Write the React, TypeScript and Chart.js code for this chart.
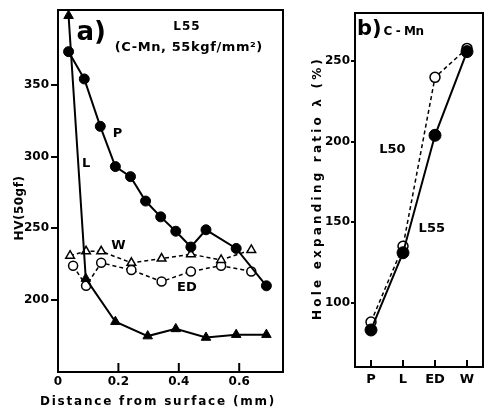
import React, { useEffect, useRef } from 'react';
import { Chart, registerables } from 'chart.js';

Chart.register(...registerables);

// ---------- Panel a) data : HV (50gf) vs distance from surface (mm) ----------
const distP = [0.035, 0.087, 0.14, 0.19, 0.24, 0.29, 0.34, 0.39, 0.44, 0.49, 0.59, 0.69];
const hvP = [373, 354, 321, 293, 286, 269, 258, 248, 237, 249, 236, 210];
const distL = [0.035, 0.092, 0.19, 0.297, 0.39, 0.49, 0.59, 0.69];
const hvL = [398, 215, 185, 175, 180, 174, 176, 176];
const distW = [0.04, 0.093, 0.143, 0.243, 0.343, 0.44, 0.54, 0.64];
const hvW = [231, 234, 234, 226, 229, 232, 228, 235];
const distED = [0.05, 0.093, 0.143, 0.243, 0.343, 0.44, 0.54, 0.64];
const hvED = [224, 210, 226, 221, 213, 220, 224, 220];
const hvTicks = [200, 250, 300, 350];
const distTicks = [0, 0.2, 0.4, 0.6];

// ---------- Panel b) data : hole expanding ratio (%) ----------
const specimens = ['P', 'L', 'ED', 'W'];
const lambdaL55 = [83, 131, 204, 256];
const lambdaL50 = [88, 135, 240, 258];
const lambdaTicks = [100, 150, 200, 250];

const FAMILY = '"DejaVu Sans", "Liberation Sans", sans-serif';

type Note = { text: string; x: number; y: number; size: number; spacing?: number; align?: CanvasTextAlign };
type Title = { text: string; x: number; y: number; size: number; spacing: number; rotate?: boolean };

function pts(xs: number[], ys: number[]) {
  return xs.map((x, i) => ({ x, y: ys[i] }));
}

function makeDecor(notes: Note[], titles: Title[], inwardTick: number, skipFirstTick: boolean) {
  return {
    id: 'decor',
    afterDraw(chart: any) {
      const { ctx, chartArea } = chart;
      const xs = chart.scales.x;
      const ys = chart.scales.y;
      ctx.save();
      // frame
      ctx.strokeStyle = '#000';
      ctx.lineWidth = 2;
      ctx.strokeRect(chartArea.left, chartArea.top, chartArea.right - chartArea.left, chartArea.bottom - chartArea.top);
      // inward x ticks
      ctx.lineWidth = 2;
      xs.ticks.forEach((t: any, i: number) => {
        if (skipFirstTick && i === 0) return;
        const px = xs.getPixelForTick(i);
        ctx.beginPath();
        ctx.moveTo(px, chartArea.bottom);
        ctx.lineTo(px, chartArea.bottom - inwardTick);
        ctx.stroke();
      });
      ctx.fillStyle = '#000';
      // annotations in data coordinates
      notes.forEach((n) => {
        ctx.font = `bold ${n.size}px ${FAMILY}`;
        (ctx as any).letterSpacing = `${n.spacing ?? 0}px`;
        ctx.textAlign = n.align ?? 'center';
        ctx.textBaseline = 'middle';
        ctx.fillText(n.text, xs.getPixelForValue(n.x), ys.getPixelForValue(n.y));
      });
      // axis titles
      titles.forEach((t) => {
        ctx.save();
        ctx.font = `bold ${t.size}px ${FAMILY}`;
        (ctx as any).letterSpacing = `${t.spacing}px`;
        ctx.textAlign = 'center';
        ctx.textBaseline = 'middle';
        ctx.translate(t.x, t.y);
        if (t.rotate) ctx.rotate(-Math.PI / 2);
        ctx.fillText(t.text, 0, 0);
        ctx.restore();
      });
      ctx.restore();
    },
  };
}

export default function App() {
  const refA = useRef<HTMLCanvasElement>(null);
  const refB = useRef<HTMLCanvasElement>(null);

  useEffect(() => {
    const tickFont = { family: FAMILY, size: 12, weight: 'bold' as const };

    const notesA: Note[] = [
      { text: 'a)', x: 0.11, y: 386, size: 26 },
      { text: 'L55', x: 0.427, y: 390, size: 12, spacing: 1 },
      { text: '(C-Mn, 55kgf/mm²)', x: 0.433, y: 376, size: 13, spacing: 0.6 },
      { text: 'P', x: 0.197, y: 316, size: 13 },
      { text: 'L', x: 0.093, y: 295, size: 13 },
      { text: 'W', x: 0.2, y: 238, size: 13 },
      { text: 'ED', x: 0.427, y: 209, size: 13 },
    ];
    const titlesA: Title[] = [
      { text: 'HV(50gf)', x: 20, y: 208, size: 12, spacing: 0.5, rotate: true },
      { text: 'Distance from surface (mm)', x: 158, y: 402, size: 12, spacing: 1.8 },
    ];

    const chartA = new Chart(refA.current!, {
      type: 'line',
      data: {
        datasets: [
          {
            label: 'P',
            data: pts(distP, hvP),
            borderColor: '#000',
            backgroundColor: '#000',
            borderWidth: 2,
            pointStyle: 'circle',
            pointRadius: 5,
            pointBorderWidth: 1,
          },
          {
            label: 'L',
            data: pts(distL, hvL),
            borderColor: '#000',
            backgroundColor: '#000',
            borderWidth: 2,
            pointStyle: 'triangle',
            pointRadius: 5.5,
            pointBorderWidth: 1,
          },
          {
            label: 'W',
            data: pts(distW, hvW),
            borderColor: '#000',
            backgroundColor: '#fff',
            borderWidth: 1.5,
            borderDash: [4, 3],
            pointStyle: 'triangle',
            pointRadius: 5,
            pointBorderWidth: 1.5,
          },
          {
            label: 'ED',
            data: pts(distED, hvED),
            borderColor: '#000',
            backgroundColor: '#fff',
            borderWidth: 1.5,
            borderDash: [4, 3],
            pointStyle: 'circle',
            pointRadius: 4.5,
            pointBorderWidth: 1.5,
          },
        ],
      },
      options: {
        animation: false,
        responsive: false,
        maintainAspectRatio: false,
        layout: { padding: { top: 10, right: 17, left: 0, bottom: 0 } },
        plugins: { legend: { display: false }, tooltip: { enabled: false } },
        elements: { line: { tension: 0 } },
        scales: {
          x: {
            type: 'linear',
            min: 0,
            max: 0.745,
            afterBuildTicks: (s: any) => {
              s.ticks = distTicks.map((v) => ({ value: v }));
            },
            afterFit: (s: any) => {
              s.height = 38;
            },
            grid: { display: false, drawTicks: false },
            border: { display: false },
            ticks: {
              color: '#000',
              font: tickFont,
              padding: 3,
              maxRotation: 0,
              autoSkip: false,
              callback: (v: any) => (Number(v) === 0 ? '0' : Number(v).toFixed(1)),
            },
          },
          y: {
            type: 'linear',
            min: 150,
            max: 402,
            afterBuildTicks: (s: any) => {
              s.ticks = hvTicks.map((v) => ({ value: v }));
            },
            afterFit: (s: any) => {
              s.width = 58;
            },
            grid: { drawOnChartArea: false, drawTicks: true, tickLength: 7, color: '#000', lineWidth: 2 },
            border: { display: false },
            ticks: { color: '#000', font: tickFont, padding: 2, autoSkip: false },
          },
        },
      },
      plugins: [makeDecor(notesA, titlesA, 9, true)],
    } as any);

    const notesB: Note[] = [
      { text: 'b)', x: -0.05, y: 270, size: 21 },
      { text: 'C - Mn', x: 1.02, y: 268, size: 12, spacing: -0.4 },
      { text: 'L50', x: 0.67, y: 195, size: 13 },
      { text: 'L55', x: 1.9, y: 146, size: 13 },
    ];
    const titlesB: Title[] = [
      { text: 'Hole expanding ratio λ (%)', x: 18, y: 188, size: 12, spacing: 3.2, rotate: true },
    ];

    const chartB = new Chart(refB.current!, {
      type: 'line',
      data: {
        labels: specimens,
        datasets: [
          {
            label: 'L55',
            data: lambdaL55,
            borderColor: '#000',
            backgroundColor: '#000',
            borderWidth: 2,
            pointStyle: 'circle',
            pointRadius: 6,
            pointBorderWidth: 1,
          },
          {
            label: 'L50',
            data: lambdaL50,
            borderColor: '#000',
            backgroundColor: '#fff',
            borderWidth: 1.5,
            borderDash: [4, 3],
            pointStyle: 'circle',
            pointRadius: 5,
            pointBorderWidth: 1.5,
          },
        ],
      },
      options: {
        animation: false,
        responsive: false,
        maintainAspectRatio: false,
        layout: { padding: { top: 13, right: 4, left: 0, bottom: 0 } },
        plugins: { legend: { display: false }, tooltip: { enabled: false } },
        elements: { line: { tension: 0 } },
        scales: {
          x: {
            type: 'category',
            offset: true,
            afterFit: (s: any) => {
              s.height = 43;
            },
            grid: { display: false, drawTicks: false },
            border: { display: false },
            ticks: { color: '#000', font: { ...tickFont, size: 13 }, padding: 5, maxRotation: 0, autoSkip: false },
          },
          y: {
            type: 'linear',
            min: 60,
            max: 280,
            afterBuildTicks: (s: any) => {
              s.ticks = lambdaTicks.map((v) => ({ value: v }));
            },
            afterFit: (s: any) => {
              s.width = 55;
            },
            grid: { drawOnChartArea: false, drawTicks: true, tickLength: 4, color: '#000', lineWidth: 2 },
            border: { display: false },
            ticks: { color: '#000', font: tickFont, padding: 1, autoSkip: false },
          },
        },
      },
      plugins: [makeDecor(notesB, titlesB, 7, false)],
    } as any);

    return () => {
      chartA.destroy();
      chartB.destroy();
    };
  }, []);

  return (
    <div style={{ position: 'fixed', left: 0, top: 0, width: 490, height: 410, background: '#fff' }}>
      <canvas
        ref={refA}
        width={300}
        height={410}
        style={{ position: 'absolute', left: 0, top: 0, width: 300, height: 410 }}
      />
      <canvas
        ref={refB}
        width={190}
        height={410}
        style={{ position: 'absolute', left: 300, top: 0, width: 190, height: 410 }}
      />
    </div>
  );
}
